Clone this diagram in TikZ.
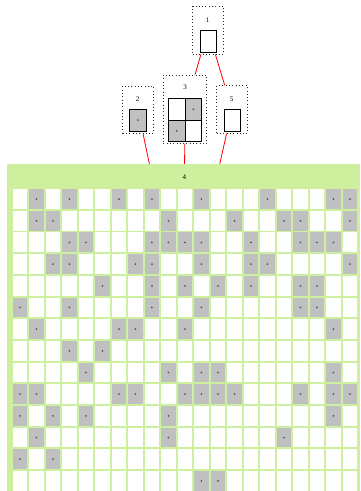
\documentclass[tikz,border=0pt]{standalone}
\usepackage{fontspec}
\setmainfont{Liberation Serif}
\definecolor{tblgreen}{RGB}{206,240,158}
\definecolor{cellgray}{RGB}{192,192,192}
\definecolor{dotgray}{RGB}{85,85,85}
\tikzset{
 dotbox/.style={draw=black!85, line width=0.75pt, dash pattern=on 0.75pt off 2.55pt, rectangle, inner sep=0pt},
 lbl/.style={font=\fontsize{7}{8}\selectfont, inner sep=0pt},
 edgeline/.style={draw=red, line width=0.8pt},
 gcell/.style={fill=cellgray},
 innerbox/.style={draw=black, line width=0.9pt},
 celldot/.style={fill=dotgray}
}
\begin{document}
\begin{tikzpicture}[x=1pt,y=-1pt]
\useasboundingbox (0,0) rectangle (360,491);
% table node 4
\node[rectangle, fill=tblgreen, minimum width=353.3pt, minimum height=327pt, inner sep=0pt] (n4) at (183.35,327.5) {};
\node[lbl] (n4label) at (184.3,177.5) {4};
\foreach \r in {0,...,13}
  \foreach \c in {0,...,20}
    \fill[white] ({11.7+16.5*\c+0.85},{188.3+21.67*\r+0.85}) rectangle ++(14.8,19.97);
\foreach \r/\cs in {0/{1,3,6,8,11,15,19,20},1/{1,2,9,13,16,17,20},2/{3,4,8,9,10,11,14,17,18,19},3/{2,3,7,8,11,14,15,20},4/{5,8,10,12,14,17,18},5/{0,3,8,11,17,18},6/{1,6,7,10,19},7/{3,5},8/{4,9,11,12,19},9/{0,1,6,7,10,11,12,13,17,19,20},10/{0,2,4,9,19},11/{1,9,16},12/{0,2},13/{11,12}}
  \foreach \c in \cs {
    \fill[gcell] ({11.7+16.5*\c+0.85},{188.3+21.67*\r+0.85}) rectangle ++(14.8,19.97);
    \fill[celldot] ({11.7+16.5*\c+8.25},{188.3+21.67*\r+10.83}) circle (1pt);
  }
% node 1
\node[dotbox, minimum width=30.6pt, minimum height=48pt] (n1) at (208,30) {};
\node[lbl] (n1label) at (207.7,20) {1};
\draw[innerbox, fill=white] (200,30.7) rectangle (216,52.3);
% node 2
\node[dotbox, minimum width=30.6pt, minimum height=47.3pt] (n2) at (138,109.65) {};
\node[lbl] (n2label) at (137.7,99) {2};
\draw[innerbox, fill=cellgray] (129.2,109.2) rectangle (146.5,131);
\fill[celldot] (137.85,120.1) circle (1pt);
% node 3
\node[dotbox, minimum width=43.4pt, minimum height=68.3pt] (n3) at (185,109.15) {};
\node[lbl] (n3label) at (185,87.7) {3};
\fill[white] (168.3,98.3) rectangle (201.7,141.7);
\fill[cellgray] (185,98.3) rectangle (201.7,120);
\fill[cellgray] (168.3,120) rectangle (185,141.7);
\fill[celldot] (193.35,109.15) circle (1pt);
\fill[celldot] (176.65,130.85) circle (1pt);
\draw[black, line width=1.2pt] (168.3,98.3) rectangle (201.7,141.7);
\draw[black, line width=0.9pt] (185,98.3) -- (185,141.7) (168.3,120) -- (201.7,120);
% node 5
\node[dotbox, minimum width=30.6pt, minimum height=47.6pt] (n5) at (232,109.5) {};
\node[lbl] (n5label) at (231.7,99) {5};
\draw[innerbox, fill=white] (224,109.3) rectangle (240,131);
% edges
\draw[edgeline] (n1) -- (n3);
\draw[edgeline] (n1) -- (n5);
\draw[edgeline] (n2) -- (n4);
\draw[edgeline] (n3) -- (n4);
\draw[edgeline] (n5) -- (n4);
\end{tikzpicture}
\end{document}
